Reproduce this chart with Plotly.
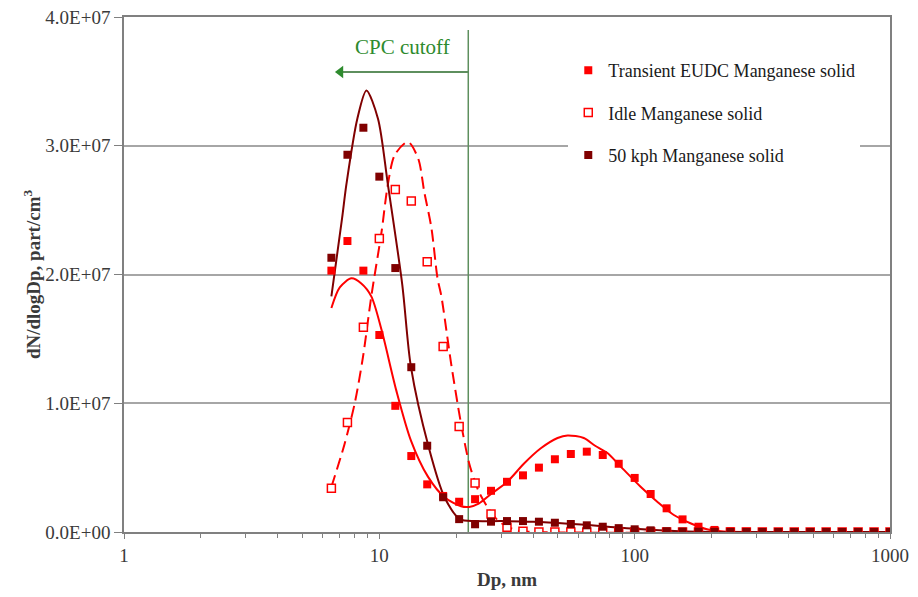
import math
import plotly.graph_objects as go

# Particle size bins (nm), 16 channels per decade
dp_nm = [6.49, 7.50, 8.66, 10.0, 11.55, 13.34, 15.40, 17.78, 20.54, 23.71,
         27.38, 31.62, 36.52, 42.17, 48.70, 56.23, 64.94, 74.99, 86.60, 100.0,
         115.5, 133.4, 154.0, 177.8, 205.4, 237.1, 273.8, 316.2, 365.2, 421.7,
         487.0, 562.3, 649.4, 749.9, 866.0, 1000.0]

SCALE = 1e7  # values below are in units of 1E+07 part/cm3

# Measured size distributions (dN/dlogDp)
eudc_meas = [2.03, 2.26, 2.03, 1.53, 0.98, 0.59, 0.37, 0.28, 0.235, 0.255,
             0.32, 0.39, 0.44, 0.50, 0.565, 0.606, 0.624, 0.598, 0.53, 0.42,
             0.295, 0.184, 0.098, 0.041, 0.016, 0.006, 0.003, 0.001, 0, 0,
             0, 0, 0, 0, 0, 0]
idle_meas = [0.34, 0.85, 1.59, 2.28, 2.66, 2.57, 2.10, 1.44, 0.82, 0.38,
             0.14, 0.036, 0.005, 0, 0, 0, 0, 0, 0, 0,
             0, 0, 0, 0, 0, 0, 0, 0, 0, 0,
             0, 0, 0, 0, 0, 0]
kph50_meas = [2.13, 2.93, 3.14, 2.76, 2.05, 1.28, 0.67, 0.27, 0.10, 0.06,
              0.08, 0.085, 0.085, 0.08, 0.072, 0.062, 0.052, 0.041, 0.030, 0.021,
              0.013, 0.006, 0.003, 0.002, 0.001, 0, 0, 0, 0, 0,
              0, 0, 0, 0, 0, 0]

# Fitted lognormal curves, sampled
eudc_fit_dp = [6.49, 7.0, 7.78, 8.5, 9.3, 10.2, 11.65, 13.3, 15.5, 18.0, 20.9,
               22.5, 24.5, 27.4, 31.7, 36.8, 42.9, 49.9, 54.6, 63.2, 70.0, 78.0,
               88.0, 105.5, 122.6, 142.4, 165.3, 192.0, 223.0, 300.0, 1000.0]
eudc_fit = [1.74, 1.90, 1.97, 1.93, 1.83, 1.57, 1.10, 0.71, 0.43, 0.27, 0.20,
            0.195, 0.22, 0.295, 0.39, 0.53, 0.65, 0.73, 0.75, 0.73, 0.67, 0.615,
            0.51, 0.352, 0.235, 0.132, 0.068, 0.021, 0.003, 0, 0]

idle_fit_dp = [6.49, 7.3, 8.01, 8.63, 9.3, 10.2, 10.8, 11.5, 12.95, 14.2, 15.0,
               16.0, 16.9, 17.5, 19.1, 20.9, 22.5, 23.9, 24.7, 26.6, 29.1, 31.8,
               35.0, 40.0, 1000.0]
idle_fit = [0.35, 0.68, 1.0, 1.36, 1.83, 2.33, 2.70, 2.93, 3.03, 2.90, 2.64,
            2.36, 1.97, 1.83, 1.31, 0.84, 0.53, 0.37, 0.30, 0.19, 0.09, 0.04,
            0.01, 0, 0]

kph50_fit_dp = [6.49, 7.15, 7.43, 8.2, 8.9, 9.88, 10.8, 12.3, 13.3, 15.6, 18.0,
                20.7, 23.7, 30.0, 40.0, 55.0, 75.0, 100.0, 150.0, 220.0, 1000.0]
kph50_fit = [1.83, 2.44, 2.70, 3.21, 3.43, 3.21, 2.70, 1.92, 1.28, 0.66, 0.27,
             0.10, 0.085, 0.085, 0.08, 0.065, 0.045, 0.025, 0.006, 0, 0]

series_names = ["Transient EUDC Manganese solid", "Idle Manganese solid",
                "50 kph Manganese solid"]

y_tickvals = [0, 1e7, 2e7, 3e7, 4e7]
y_ticktext = ["0.0E+00", "1.0E+07", "2.0E+07", "3.0E+07", "4.0E+07"]
x_tickvals = [1, 10, 100, 1000]
x_ticktext = ["1", "10", "100", "1000"]

# CPC lower detection limit and the arrow pointing below it
cpc_cutoff_nm = 22.3
cpc_top = 3.9e7
arrow_y = 3.573e7
arrow_tip_nm = 7.04
cpc_label_nm = 12.3
cpc_label_y = 3.77e7

RED = "#FF0000"
DARK = "#800000"
GREEN_LINE = "#5E8F5E"
GREEN_TEXT = "#2E8B2E"
SERIF = "Liberation Serif, Times New Roman, serif"
AXIS_TEXT = "#3a3a3a"


def scaled(vals):
    return [v * SCALE for v in vals]


fig = go.Figure()

# CPC cutoff marker line and arrow
fig.add_trace(go.Scatter(x=[cpc_cutoff_nm, cpc_cutoff_nm], y=[0, cpc_top], mode="lines",
                         line=dict(color=GREEN_LINE, width=1.5),
                         showlegend=False, hoverinfo="skip"))
fig.add_trace(go.Scatter(x=[cpc_cutoff_nm, arrow_tip_nm], y=[arrow_y, arrow_y], mode="lines",
                         line=dict(color=GREEN_LINE, width=2),
                         showlegend=False, hoverinfo="skip"))
fig.add_trace(go.Scatter(x=[arrow_tip_nm], y=[arrow_y], mode="markers",
                         marker=dict(symbol="triangle-left", size=11, color=GREEN_TEXT,
                                     line=dict(width=0)),
                         showlegend=False, hoverinfo="skip"))

# Fit curves
fig.add_trace(go.Scatter(x=eudc_fit_dp, y=scaled(eudc_fit), mode="lines",
                         line=dict(color=RED, width=2, shape="spline", smoothing=0.8),
                         showlegend=False))
fig.add_trace(go.Scatter(x=idle_fit_dp, y=scaled(idle_fit), mode="lines",
                         line=dict(color=RED, width=2, dash="12px,6px", shape="spline",
                                   smoothing=0.8),
                         showlegend=False))
fig.add_trace(go.Scatter(x=kph50_fit_dp, y=scaled(kph50_fit), mode="lines",
                         line=dict(color=DARK, width=2, shape="spline", smoothing=0.8),
                         showlegend=False))

# Measured points
fig.add_trace(go.Scatter(x=dp_nm, y=scaled(eudc_meas), mode="markers", name=series_names[0],
                         legendgroup="a",
                         marker=dict(symbol="square", size=8, color=RED,
                                     line=dict(width=0))))
fig.add_trace(go.Scatter(x=dp_nm, y=scaled(idle_meas), mode="markers", name=series_names[1],
                         legendgroup="b",
                         marker=dict(symbol="square", size=8, color="white",
                                     line=dict(width=1.5, color=RED))))
fig.add_trace(go.Scatter(x=dp_nm, y=scaled(kph50_meas), mode="markers", name=series_names[2],
                         legendgroup="c",
                         marker=dict(symbol="square", size=8, color=DARK,
                                     line=dict(width=0))))

# CPC cutoff label
fig.add_annotation(x=math.log10(cpc_label_nm), y=cpc_label_y, xref="x", yref="y",
                   text="CPC cutoff", showarrow=False,
                   font=dict(family=SERIF, size=21, color=GREEN_TEXT))

fig.update_layout(
    width=918, height=597,
    margin=dict(l=124, r=28, t=17, b=65),
    paper_bgcolor="white", plot_bgcolor="white",
    font=dict(family=SERIF, size=18, color=AXIS_TEXT),
    showlegend=True,
    legend=dict(x=0.58, y=0.932, xanchor="left", yanchor="top",
                bgcolor="white", borderwidth=0, tracegroupgap=16,
                font=dict(family=SERIF, size=18, color="#1a1a1a"),
                itemwidth=30),
    xaxis=dict(type="log", range=[0, 3], tickvals=x_tickvals, ticktext=x_ticktext,
               automargin=False,
               showgrid=False, showline=True, linecolor="#808080", linewidth=1.5,
               mirror=True, ticks="outside", ticklen=5, tickcolor="#808080",
               tickfont=dict(family=SERIF, size=19, color=AXIS_TEXT),
               minor=dict(ticks="outside", ticklen=4, tickcolor="#808080",
                          tickvals=[m * 10 ** e for e in range(3) for m in range(2, 10)],
                          showgrid=False),
               title=dict(text="<b>Dp, nm</b>", font=dict(family=SERIF, size=19, color=AXIS_TEXT),
                          standoff=8),
               zeroline=False),
    yaxis=dict(range=[0, 4e7], tickvals=y_tickvals, ticktext=y_ticktext,
               automargin=False,
               showgrid=True, gridcolor="#A6A6A6", gridwidth=1.5,
               showline=True, linecolor="#808080", linewidth=1.5, mirror=True,
               ticks="outside", ticklen=8, tickcolor="#808080",
               tickfont=dict(family=SERIF, size=19, color=AXIS_TEXT),
               title=dict(text="<b>dN/dlogDp, part/cm<sup>3</sup></b>",
                          font=dict(family=SERIF, size=19, color=AXIS_TEXT), standoff=0),
               zeroline=False),
)

fig.write_html("out.html")
